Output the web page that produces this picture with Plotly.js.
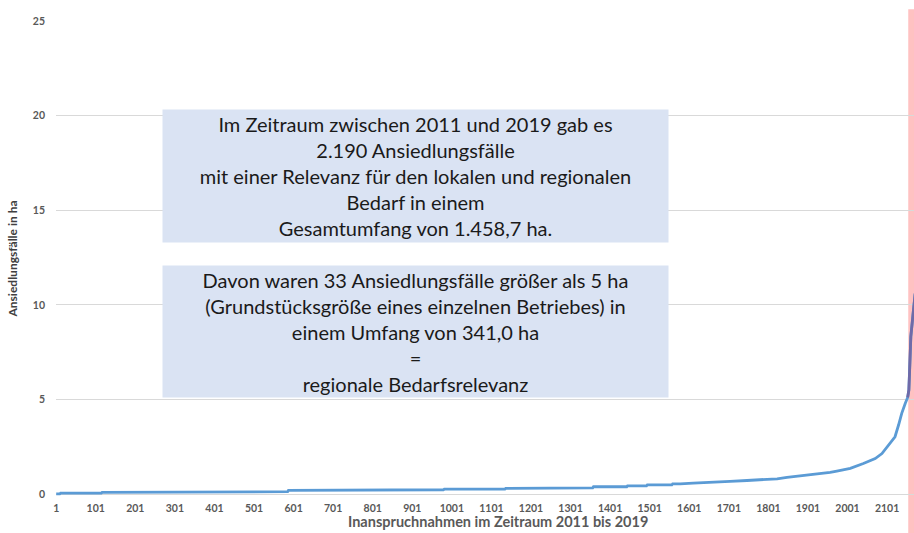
<!DOCTYPE html>
<html>
<head>
<meta charset="utf-8">
<script src="https://cdn.plot.ly/plotly-3.0.1.min.js"></script>
<style>html,body{margin:0;padding:0;background:#fff;}#chart{width:914px;height:533px;}</style>
</head>
<body>
<div id="chart"></div>
<script>
// Sorted settlement cases (case number, area in ha)
const caseNo = [1, 10, 12, 115, 117, 346, 348, 586, 588, 801, 803, 980, 982, 1135, 1137, 1261, 1263, 1357, 1359, 1443, 1445, 1493, 1495, 1557, 1559, 1578, 1611, 1666, 1704, 1747, 1785, 1823, 1848, 1889, 1924, 1957, 1974, 2008, 2041, 2071, 2088, 2104, 2121, 2130, 2138, 2147, 2153, 2156, 2158, 2161, 2166, 2169, 2172];
const areaHa = [0.01, 0.01, 0.05, 0.05, 0.09, 0.09, 0.13, 0.13, 0.20, 0.20, 0.23, 0.23, 0.26, 0.26, 0.30, 0.30, 0.33, 0.33, 0.39, 0.39, 0.44, 0.44, 0.49, 0.49, 0.54, 0.54, 0.58, 0.62, 0.67, 0.72, 0.76, 0.81, 0.88, 0.98, 1.04, 1.15, 1.22, 1.36, 1.62, 1.88, 2.14, 2.58, 3.03, 3.65, 4.27, 4.80, 5.11, 5.50, 6.56, 8.32, 9.38, 9.90, 10.6];
const xTickVals = [1, 101, 201, 301, 401, 501, 601, 701, 801, 901, 1001, 1101, 1201, 1301, 1401, 1501, 1601, 1701, 1801, 1901, 2001, 2101];
const xTickText = xTickVals.map(String);
const yTickVals = [0, 5, 10, 15, 20, 25];
const totalCases = 2190;
const bandStart = 2154.5;   // start of the >5 ha cases band
const highlightFrom = 2153;

const box1Text = "Im Zeitraum zwischen 2011 und 2019 gab es<br>2.190 Ansiedlungsfälle<br>mit einer Relevanz für den lokalen und regionalen<br>Bedarf in einem<br>Gesamtumfang von 1.458,7 ha.";
const box2Text = "Davon waren 33 Ansiedlungsfälle größer als 5 ha<br>(Grundstücksgröße eines einzelnen Betriebes) in<br>einem Umfang von 341,0 ha<br>=<br>regionale Bedarfsrelevanz";

const hiX = [], hiY = [];
caseNo.forEach((c, i) => { if (c >= highlightFrom) { hiX.push(c); hiY.push(areaHa[i]); } });

const fam = 'Lato, "DejaVu Sans", sans-serif';
const tickFont = {family: fam, size: 10.5, color: '#595959', weight: 'bold'};

const data = [
  {x: caseNo, y: areaHa, type: 'scatter', mode: 'lines', line: {color: '#5b9bd5', width: 2.8}, hoverinfo: 'x+y'},
  {x: hiX, y: hiY, type: 'scatter', mode: 'lines', line: {color: '#6f6aa8', width: 2.8}, hoverinfo: 'x+y'}
];

const layout = {
  width: 914, height: 533,
  margin: {l: 56, r: 0, t: 21, b: 37},
  paper_bgcolor: '#ffffff', plot_bgcolor: '#ffffff',
  showlegend: false,
  font: {family: fam},
  xaxis: {
    type: 'linear', range: [0.5, 2169], tickmode: 'array', tickvals: xTickVals, ticktext: xTickText,
    showgrid: false, zeroline: false, showline: false, ticks: '', tickfont: tickFont, ticklabelstandoff: 4
  },
  yaxis: {
    range: [-0.1, 25], tickmode: 'array', tickvals: yTickVals, showgrid: true, gridcolor: '#d9d9d9', gridwidth: 1,
    zeroline: true, zerolinecolor: '#d9d9d9', zerolinewidth: 1, showline: false, ticks: '', tickfont: tickFont,
    ticklabelstandoff: 10,
    title: {text: 'Ansiedlungsfälle in ha', font: {family: fam, size: 12, color: '#404040', weight: 'bold'}, standoff: 12}
  },
  shapes: [
    {type: 'rect', xref: 'x', yref: 'paper', x0: bandStart, x1: totalCases, y0: -0.08, y1: 1.025,
     fillcolor: '#ffc2c2', line: {width: 0}, layer: 'between'}
  ],
  annotations: [
    {xref: 'paper', yref: 'paper', x: 0.515, y: -0.053, yanchor: 'middle', showarrow: false,
     text: 'Inanspruchnahmen im Zeitraum 2011 bis 2019',
     font: {family: fam, size: 14.5, color: '#595959', weight: 'bold'}},
    {xref: 'paper', yref: 'paper', x: 0.419, y: 0.674, xanchor: 'center', yanchor: 'middle', showarrow: false,
     width: 505, height: 132, bgcolor: '#dae3f3', borderpad: 0, align: 'center', valign: 'middle',
     text: box1Text, font: {family: fam, size: 20, color: '#1a1a1a'}},
    {xref: 'paper', yref: 'paper', x: 0.419, y: 0.346, xanchor: 'center', yanchor: 'middle', showarrow: false,
     width: 505, height: 131, bgcolor: '#dae3f3', borderpad: 0, align: 'center', valign: 'middle',
     text: box2Text, font: {family: fam, size: 20, color: '#1a1a1a'}}
  ]
};

Plotly.newPlot('chart', data, layout, {displayModeBar: false, staticPlot: true});
</script>
</body>
</html>
